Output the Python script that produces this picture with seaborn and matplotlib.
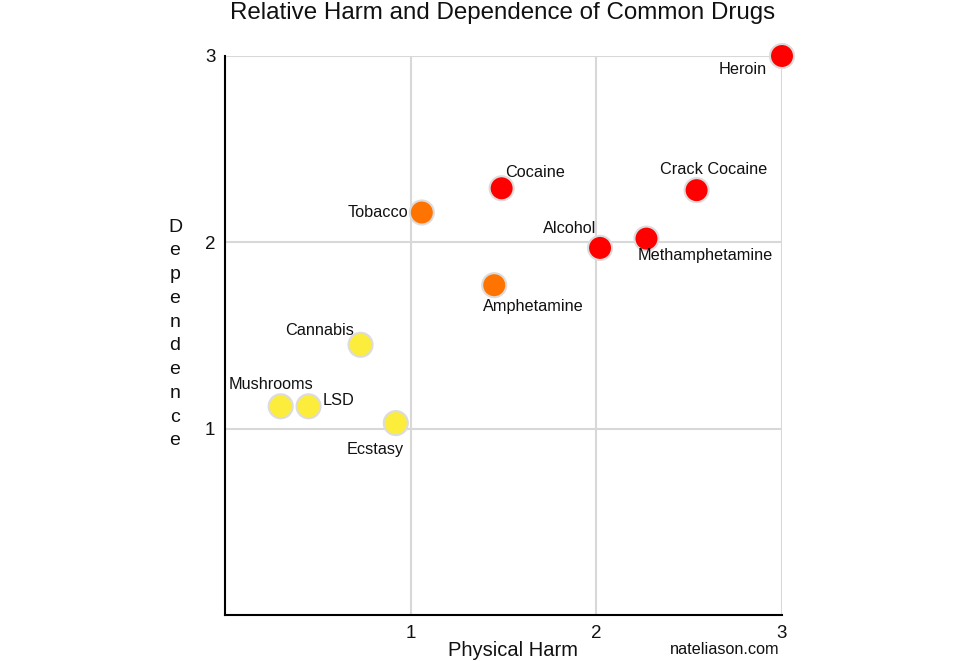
import pandas as pd
import matplotlib.pyplot as plt
import seaborn as sns

drugs = ['Heroin', 'Crack Cocaine', 'Cocaine', 'Tobacco', 'Alcohol', 'Methamphetamine',
         'Amphetamine', 'Cannabis', 'Mushrooms', 'LSD', 'Ecstasy']
physical_harm = [3.0, 2.54, 1.49, 1.06, 2.02, 2.27, 1.45, 0.73, 0.30, 0.45, 0.92]
dependence = [3.0, 2.28, 2.29, 2.16, 1.97, 2.02, 1.77, 1.45, 1.12, 1.12, 1.03]
group = ['high', 'high', 'high', 'mid', 'high', 'high', 'mid', 'low', 'low', 'low', 'low']

# label offsets in pixels and alignment
offsets = {
    'Heroin': (-15, -13, 'right'),
    'Crack Cocaine': (17, 21, 'center'),
    'Cocaine': (3, 16, 'left'),
    'Tobacco': (-14, 0, 'right'),
    'Alcohol': (-4, 19, 'right'),
    'Methamphetamine': (-9, -17, 'left'),
    'Amphetamine': (39, -21, 'center'),
    'Cannabis': (-7, 14, 'right'),
    'Mushrooms': (-52, 22, 'left'),
    'LSD': (14, 6, 'left'),
    'Ecstasy': (-21, -26, 'center'),
}

df = pd.DataFrame({'Drug': drugs, 'Physical Harm': physical_harm,
                   'Dependence': dependence, 'Group': group})

sns.set_style('white')
plt.rcParams['font.family'] = ['Liberation Sans', 'DejaVu Sans']

fig = plt.figure(figsize=(9.6, 6.61), dpi=100)
ax = fig.add_axes([225 / 960, 1 - 615 / 661, 557 / 960, 559 / 661])

palette = {'high': '#ff0000', 'mid': '#ff7300', 'low': '#fcec3c'}
sns.scatterplot(data=df, x='Physical Harm', y='Dependence', hue='Group', palette=palette,
                s=300, edgecolor='#dcdcdc', linewidth=1.5, legend=False, ax=ax,
                clip_on=False, zorder=5)

for d, x, y in zip(drugs, physical_harm, dependence):
    dx, dy, ha = offsets[d]
    ax.annotate(d, (x, y), xytext=(dx, dy), textcoords='offset pixels',
                ha=ha, va='center', fontsize=11.7, color='#111111', zorder=6)

ax.set_xlim(0, 3)
ax.set_ylim(0, 3)
ax.set_xticks([1, 2, 3])
ax.set_yticks([1, 2, 3])
ax.grid(True, color='#d8d8d8', linewidth=1.5)
ax.set_axisbelow(True)
ax.tick_params(length=0, labelsize=13.5, pad=7, colors='#111111')
for s in ['top', 'right']:
    ax.spines[s].set_visible(False)
for s in ['left', 'bottom']:
    ax.spines[s].set_color('black')
    ax.spines[s].set_linewidth(1.5)

ax.set_xlabel('Physical Harm', fontsize=14.5, color='#111111')
ax.xaxis.set_label_coords((513 - 225) / 557, -(641 - 615) / 559)
ax.set_ylabel('\n'.join('Dependence'), rotation=0, fontsize=14, linespacing=1.52,
              va='center', ha='center', color='#111111')
ax.yaxis.set_label_coords(-(225 - 175) / 557, (615 - 334) / 559)

fig.text(503 / 960, 1 - 13 / 661, 'Relative Harm and Dependence of Common Drugs',
         ha='center', va='center', fontsize=17.4, color='#111111')
fig.text(780 / 960, 1 - 649 / 661, 'nateliason.com', ha='right', va='center',
         fontsize=11.7, color='#111111')

plt.savefig('out.png', dpi=100)
